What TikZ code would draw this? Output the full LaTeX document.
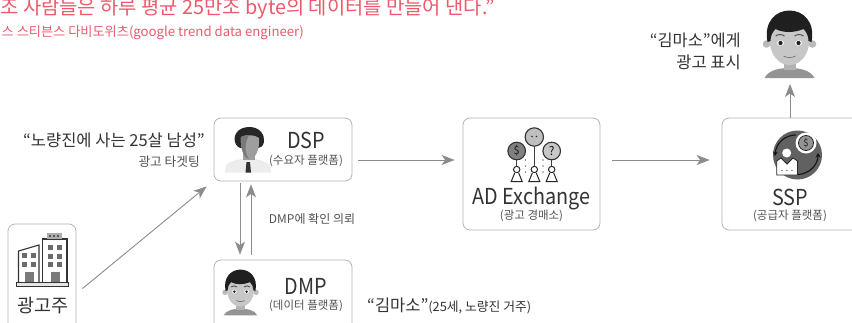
\documentclass[tikz,border=0pt]{standalone}
\usepackage{fontspec}
\setmainfont{Noto Sans CJK KR}
\newfontfamily\narrowfont[FakeStretch=0.9]{Noto Sans CJK KR}
\usetikzlibrary{arrows.meta}
\definecolor{redtxt}{HTML}{EE5A6C}
\definecolor{boxline}{HTML}{B4B4B4}
\definecolor{arrowc}{HTML}{8C8C8C}
\definecolor{txt}{HTML}{333333}
\newcommand{\fs}[1]{\fontsize{#1}{#1}\selectfont}
\tikzset{
  card/.style={draw=boxline,line width=0.8pt,rounded corners=7pt,fill=white,inner sep=0pt},
  flow/.style={draw=arrowc,line width=0.9pt,-{Stealth[length=13pt,width=10pt,inset=3.5pt]}},
  title/.style={text=txt,font=\narrowfont\fs{22},inner sep=0pt},
  sub/.style={text=txt!85,font=\fs{11.5},inner sep=0pt},
  note/.style={text=txt,font=\fs{16.5},inner sep=0pt},
  red/.style={text=redtxt,inner sep=0pt}
}
\newcommand{\boyicon}[3]{%
\begin{scope}[shift={(#1,#2)},scale=#3]
  \fill[black!42] (-25,36) .. controls (-21,28) and (-10,26) .. (0,26) .. controls (10,26) and (21,28) .. (25,36) -- cycle;
  \fill[black!30] (-6,16) rectangle (6,28);
  \fill[black!27] (-23,2) circle (3.8) (23,2) circle (3.8);
  \fill[black!22] (-20,-4) .. controls (-20,14) and (-10,23) .. (0,23) .. controls (10,23) and (20,14) .. (20,-4) -- (20,-14) -- (-20,-14) -- cycle;
  \fill[black!88] (-22,0) .. controls (-30,-42) and (30,-42) .. (22,0) -- (19,-1) .. controls (19,-6) and (17,-10) .. (14,-13) .. controls (4,-9) and (-6,-9) .. (-14,-13) .. controls (-17,-10) and (-19,-6) .. (-19,-1) -- cycle;
  \fill[white] (-9,1) ellipse (3.4 and 2.6) (9,1) ellipse (3.4 and 2.6);
  \fill[black!88] (-9,1) circle (2.1) (9,1) circle (2.1);
  \draw[black!70,line width=0.9pt] (-14,-6) .. controls (-11,-8) and (-8,-8) .. (-5,-6) (14,-6) .. controls (11,-8) and (8,-8) .. (5,-6);
  \draw[black!55,line width=0.7pt] (-6,14) .. controls (-3,16) and (3,16) .. (6,14);
\end{scope}}
\begin{document}
\begin{tikzpicture}[x=1pt,y=-1pt]
\useasboundingbox (0,0) rectangle (852,322);
\clip (0,0) rectangle (852,322);
\fill[white] (0,0) rectangle (852,322);

% heading
\node[red,anchor=east,font=\fs{19.85}] (quote) at (495,9) {조 사람들은 하루 평균 25만조 byte의 데이터를 만들어 낸다.”};
\node[red,anchor=east,font=\fs{13.2}] (author) at (304,33) {스 스티븐스 다비도위츠(google trend data engineer)};

% cards
\node[card,minimum width=138pt,minimum height=63pt] (dsp) at (283,149.5) {};
\node[card,minimum width=138pt,minimum height=70pt] (dmp) at (283,295) {};
\node[card,minimum width=68pt,minimum height=110pt] (adv) at (42,279) {};
\node[card,minimum width=137pt,minimum height=112pt] (adx) at (531.5,174) {};
\node[card,minimum width=150pt,minimum height=112pt] (ssp) at (797,174) {};

% DSP man
\fill[black!85] (249.5,127) .. controls (238,127) and (233,135) .. (235,142) .. controls (236,146) and (239,148) .. (241,148) -- (258,148) .. controls (261,148) and (263,146) .. (264,142) .. controls (265,135) and (260,127) .. (249.5,127) -- cycle;
\fill[black!7] (225,172.5) -- (226,165) .. controls (232,160) and (241,159) .. (248,158) .. controls (256,159) and (264,160) .. (270,165) -- (271,172.5) -- cycle;
\fill[black!38] (243,150) rectangle (255,160) ;
\fill[black!38] (241,137) .. controls (248,134) and (255,135) .. (259,138) .. controls (260,150) and (255,159) .. (250,159) .. controls (245,159) and (240,150) .. (241,137) -- cycle;
\fill[black!52] (241,137) .. controls (245,135) and (247,135) .. (249,135) .. controls (245,142) and (244,152) .. (249,159) .. controls (245,159) and (240,150) .. (241,137) -- cycle;
\fill[black!80] (246.5,162) -- (250,162) -- (251,172.5) -- (245.5,172.5) -- cycle;

% DMP boy, top boy
\boyicon{240.5}{291}{0.68}
\boyicon{789.5}{42}{1}

% building
\draw[black!80,line width=1.1pt,fill=white] (18.5,282) -- (18.5,251) -- (39,245) -- (39,282);
\draw[black!80,line width=1.1pt,fill=white] (42.5,282) -- (42.5,239) -- (67,239) -- (67,282);
\fill[black!32] (47,233) rectangle (62,238.5);
\foreach \px in {49,53,57}\fill[black!65] (\px,235) rectangle +(2,2);
\draw[black!80,line width=1pt,fill=black!10] (16,282) rectangle (68.5,286);
\foreach \px/\py in {22/253,31/253,22/262,31/262,48/245,57/245,48/253.5,57/253.5,48/262,57/262}
  \fill[black!58] (\px,\py) rectangle +(5,5);
\fill[black!52] (25,272) rectangle (33.5,282);
\fill[black!52] (51,272) rectangle (59.5,282);
\node[text=txt,font=\fs{18.5},inner sep=0pt] (advt) at (43,306) {광고주};

% exchange icon
\draw[black!75,line width=1.4pt] (534.3,146) -- (534.3,166) (516.7,160) -- (516.7,166) (551.7,160) -- (551.7,166);
\draw[black!80,line width=1.1pt,fill=black!25] (534.3,137) circle (9.2);
\draw[black!80,line width=1.1pt,fill=black!50] (516.7,151) circle (8.8);
\draw[black!80,line width=1.1pt,fill=black!22] (551.7,151) circle (8.8);
\node[inner sep=0pt,font=\fs{11},text=black!90] (dollar) at (516.7,151) {\$};
\node[inner sep=0pt,font=\fs{12},text=black!90] (quest) at (551.7,151) {?};
\fill[black!80] (532,136.5) circle (0.9) (536.5,136.5) circle (0.9);
\foreach \cx in {516.7,534.3,551.7}{
  \draw[black!85,line width=1pt,fill=white] (\cx,169.5) circle (3.2);
  \draw[black!85,line width=1pt,fill=white] (\cx-2,173) -- (\cx-5.5,181.5) -- (\cx+5.5,181.5) -- (\cx+2,173);
}
\foreach \cx in {525.5,543}{\foreach \cy in {160,166,172}
  \fill[black!50] (\cx,\cy) circle (0.8);}

% SSP icon
\fill[black!62] (797.5,155) circle (24.5);
\draw[black!92,line width=1.1pt,-{Stealth[length=4.5pt,width=5pt]}] (796,135) .. controls (785,135) and (776,143) .. (775,156);
\draw[black!92,line width=1.1pt,-{Stealth[length=4.5pt,width=5pt]}] (798,174.5) .. controls (809,174) and (818,165) .. (818,153);
\fill[white] (806,143) circle (10.5);
\draw[black!85,line width=0.8pt,fill=black!42] (806,143) circle (7.5);
\node[inner sep=0pt,font=\fs{9.5},text=black!90] (dollar2) at (806,143) {\$};
\fill[white] (786.7,153) circle (4.5);
\draw[black!85,line width=0.8pt,fill=white] (776.7,175) -- (776.7,161) -- (781,158) -- (787,164) -- (793,158) -- (797.5,161) -- (797.5,175) -- cycle;
\fill[black!85] (782,170.5) circle (0.7) (787,170.5) circle (0.7) (792,170.5) circle (0.7);

% labels
\node[title] (dspt) at (306,140) {DSP};
\node[sub] (dsps) at (306,161) {(수요자 플랫폼)};
\node[title] (dmpt) at (306,286) {DMP};
\node[sub] (dmps) at (306,306) {(데이터 플랫폼)};
\node[title] (adxt) at (531.5,198) {AD Exchange};
\node[sub] (adxs) at (531.5,216) {(광고 경매소)};
\node[title] (sspt) at (790,197) {SSP};
\node[sub] (ssps) at (790,216) {(공급자 플랫폼)};
\node[note,anchor=east] (target) at (205,140) {“노량진에 사는 25살 남성”};
\node[sub,anchor=east,font=\fs{12.7}] (targets) at (200,162) {광고 타겟팅};
\node[sub,font=\fs{12}] (ask) at (312,219) {DMP에 확인 의뢰};
\node[note,anchor=west] (kim) at (367,306) {“김마소”{\fs{12.8}(25세, 노량진 거주)}};
\node[note,anchor=east,font=\fs{16.4}] (show1) at (741,40) {“김마소”에게};
\node[note,anchor=east] (show2) at (741,62) {광고 표시};
\coordinate (viewer) at (790,84);

% connectors (xshift, yshift are in page directions: yshift up is positive)
\draw[flow] ([xshift=6pt,yshift=-10.5pt]dsp.east) -- ([xshift=-8pt,yshift=14pt]adx.west);
\draw[flow] ([xshift=12pt,yshift=14pt]adx.east) -- ([xshift=-12pt,yshift=14pt]ssp.west);
\draw[flow] ([xshift=6pt,yshift=-65pt]adv.north east) -- ([xshift=-7pt,yshift=-5pt]dsp.south west);
\draw[flow] ([xshift=-43pt,yshift=-2pt]dsp.south) -- ([xshift=-43pt,yshift=5pt]dmp.north);
\draw[flow] ([xshift=-32pt,yshift=5pt]dmp.north) -- ([xshift=-32pt,yshift=-3pt]dsp.south);
\draw[flow] (ssp.north -| viewer) -- (viewer);
\end{tikzpicture}
\end{document}
